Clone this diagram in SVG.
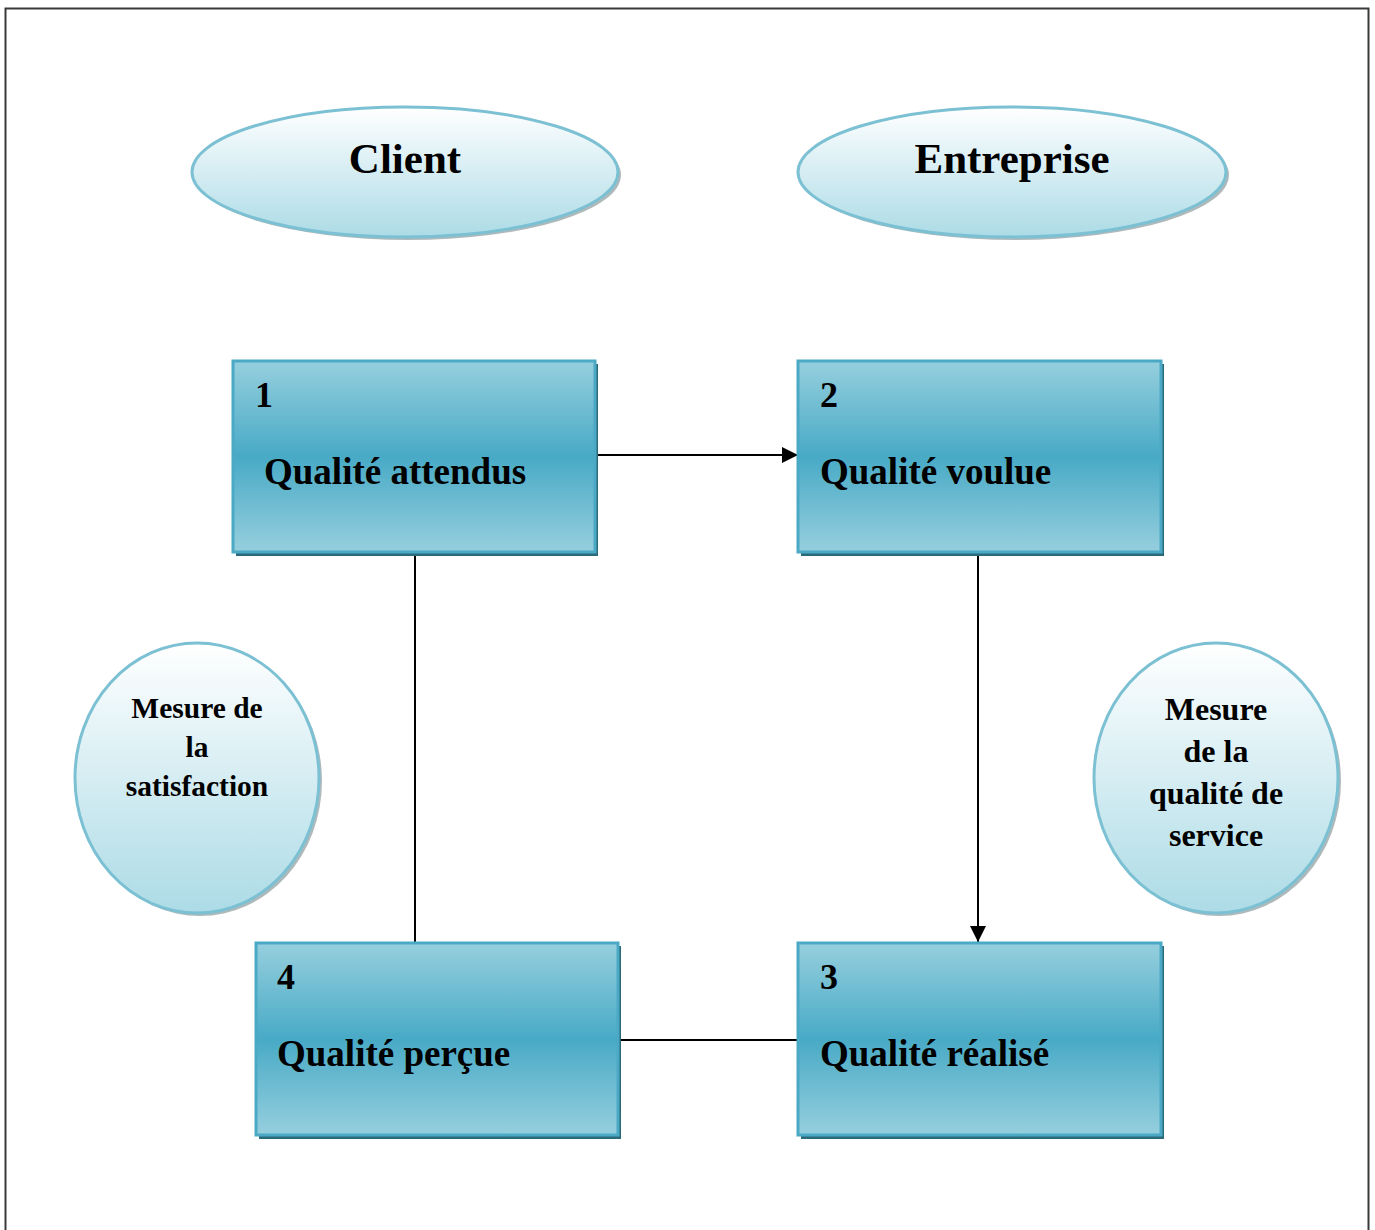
<svg xmlns="http://www.w3.org/2000/svg" width="1375" height="1230" viewBox="0 0 1375 1230">
  <style>
    .t { font-family: "Liberation Serif", "Times New Roman", serif; font-weight: bold; fill: #000; }
    .box { fill: url(#boxGrad); stroke: #4ba9c5; stroke-width: 3; }
    .boxShadow { fill: #2b6a7a; }
    .oval { fill: url(#ovalGrad); stroke: #7cc0d3; stroke-width: 3; }
    .ovalShadow { fill: #9aa7ab; opacity: 0.8; }
    .conn { stroke: #000; stroke-width: 2; fill: none; }
  </style>
  <defs>
    <linearGradient id="boxGrad" x1="0" y1="0" x2="0" y2="1">
      <stop offset="0" stop-color="#96cfde"/>
      <stop offset="0.5" stop-color="#48aac6"/>
      <stop offset="1" stop-color="#96cfde"/>
    </linearGradient>
    <linearGradient id="ovalGrad" x1="0" y1="0" x2="0" y2="1">
      <stop offset="0" stop-color="#ffffff"/>
      <stop offset="1" stop-color="#acdbe6"/>
    </linearGradient>
    <marker id="arrowBig" viewBox="0 0 10 10" refX="10" refY="5" markerWidth="16" markerHeight="16" markerUnits="userSpaceOnUse" orient="auto">
      <path d="M0,0 L10,5 L0,10 z" fill="#000"/>
    </marker>
  </defs>

  <rect width="1375" height="1230" fill="#fff"/>
  <!-- page frame -->
  <path d="M5.5,1230 V8.5 H1368.5 V1230" fill="none" stroke="#3a3a3a" stroke-width="2"/>

  <!-- connectors -->
  <g id="connectors">
    <line class="conn" x1="597" y1="455" x2="798" y2="455" marker-end="url(#arrowBig)"/>
    <line class="conn" x1="415" y1="554" x2="415" y2="943"/>
    <line class="conn" x1="978" y1="554" x2="978" y2="942" marker-end="url(#arrowBig)"/>
    <line class="conn" x1="620" y1="1040" x2="798" y2="1040"/>
  </g>

  <g id="client">
    <ellipse class="ovalShadow" cx="408" cy="175" rx="213" ry="65"/>
    <ellipse class="oval" cx="405" cy="172" rx="213" ry="65"/>
    <text class="t" x="405" y="173" font-size="43" text-anchor="middle">Client</text>
  </g>

  <g id="entreprise">
    <ellipse class="ovalShadow" cx="1015" cy="175" rx="214" ry="65"/>
    <ellipse class="oval" cx="1012" cy="172" rx="214" ry="65"/>
    <text class="t" x="1012" y="173" font-size="43" text-anchor="middle">Entreprise</text>
  </g>

  <g id="node1">
    <rect class="boxShadow" x="236" y="364" width="362" height="192"/>
    <rect class="box" x="233" y="361" width="362" height="191"/>
    <text class="t" x="255" y="407" font-size="36">1</text>
    <text class="t" x="264" y="484" font-size="37">Qualité attendus</text>
  </g>

  <g id="node2">
    <rect class="boxShadow" x="801" y="364" width="363" height="192"/>
    <rect class="box" x="798" y="361" width="363" height="191"/>
    <text class="t" x="820" y="407" font-size="36">2</text>
    <text class="t" x="820" y="484" font-size="37">Qualité voulue</text>
  </g>

  <g id="node4">
    <rect class="boxShadow" x="259" y="946" width="362" height="193"/>
    <rect class="box" x="256" y="943" width="362" height="192"/>
    <text class="t" x="277" y="989" font-size="36">4</text>
    <text class="t" x="277" y="1066" font-size="37">Qualité perçue</text>
  </g>

  <g id="node3">
    <rect class="boxShadow" x="801" y="946" width="363" height="193"/>
    <rect class="box" x="798" y="943" width="363" height="192"/>
    <text class="t" x="820" y="989" font-size="36">3</text>
    <text class="t" x="820" y="1066" font-size="37">Qualité réalisé</text>
  </g>

  <g id="mesure-satisfaction">
    <ellipse class="ovalShadow" cx="200" cy="781" rx="122" ry="135"/>
    <ellipse class="oval" cx="197" cy="778" rx="122" ry="135"/>
    <text class="t" font-size="29.5" text-anchor="middle"><tspan x="197" y="718">Mesure de</tspan><tspan x="197" y="757">la</tspan><tspan x="197" y="796">satisfaction</tspan></text>
  </g>

  <g id="mesure-qualite-service">
    <ellipse class="ovalShadow" cx="1219" cy="781" rx="122" ry="135"/>
    <ellipse class="oval" cx="1216" cy="778" rx="122" ry="135"/>
    <text class="t" font-size="32" text-anchor="middle"><tspan x="1216" y="720">Mesure</tspan><tspan x="1216" y="762">de la</tspan><tspan x="1216" y="804">qualité de</tspan><tspan x="1216" y="846">service</tspan></text>
  </g>
</svg>
